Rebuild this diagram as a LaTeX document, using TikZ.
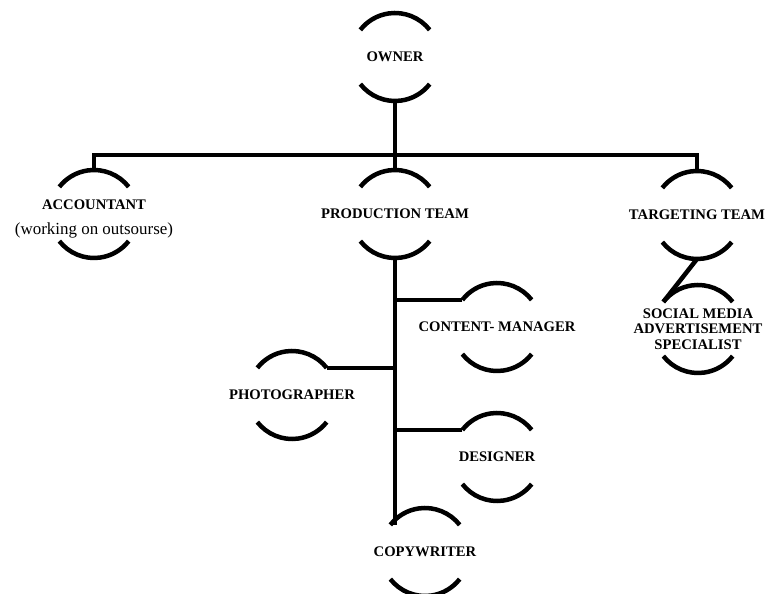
\documentclass[tikz,border=0pt]{standalone}
\usepackage{fontspec}
\setmainfont{Liberation Serif}
\usetikzlibrary{calc}

\begin{document}
\begin{tikzpicture}[x=1bp, y=1bp]
  \tikzset{role/.style = {circle, minimum size=88bp, inner sep=0pt, outer sep=0pt}}
  \tikzset{lbl/.style = {align=center, font=\fontsize{14.7}{15.5}\selectfont\bfseries}}
  \tikzset{rim/.style = {line width=4.5bp}}
  \tikzset{link/.style = {line width=4.5bp}}

  \useasboundingbox (0,0) rectangle (765,594);

  % the roles
  \node[role, label={[lbl]center:OWNER}] (owner) at (395,537) {};
  \node[role, label={[lbl, yshift=-5bp]center:ACCOUNTANT\\[9bp]{\mdseries\fontsize{17}{17}\selectfont(working on outsourse)}}] (accountant) at (94,380) {};
  \node[role, label={[lbl]center:PRODUCTION TEAM}] (production) at (395,380) {};
  \node[role, label={[lbl]center:TARGETING TEAM}] (targeting) at (697,379) {};
  \node[role, label={[lbl]center:SOCIAL MEDIA\\ADVERTISEMENT\\SPECIALIST}] (social) at (698,265) {};
  \node[role, label={[lbl]center:CONTENT- MANAGER}] (content) at (497,267) {};
  \node[role, label={[lbl]center:PHOTOGRAPHER}] (photographer) at (292,199) {};
  \node[role, label={[lbl]center:DESIGNER}] (designer) at (497,137) {};
  \node[role, label={[lbl]center:COPYWRITER}] (copywriter) at (425,42) {};

  % open circles
  \foreach \n in {owner,accountant,production,targeting,social,content,photographer,designer,copywriter}{
    \draw[rim] (\n.38) arc[start angle=38, end angle=142, radius=44];
    \draw[rim] (\n.218) arc[start angle=218, end angle=322, radius=44];
  }

  % links
  \coordinate (bus) at (0,439);
  \draw[link] (owner.south) -- (production.north);
  \draw[link] (accountant.north) -- (accountant.north |- bus) -- (targeting.north |- bus) -- (targeting.north);
  \draw[link] (targeting.south) -- (social.142);
  \draw[link] (production.south) -- (production.south |- copywriter.142);
  \draw[link] (content.142) -- (content.142 -| production.south);
  \draw[link] (designer.142) -- (designer.142 -| production.south);
  \draw[link] (photographer.38) -- (photographer.38 -| production.south);
\end{tikzpicture}
\end{document}
